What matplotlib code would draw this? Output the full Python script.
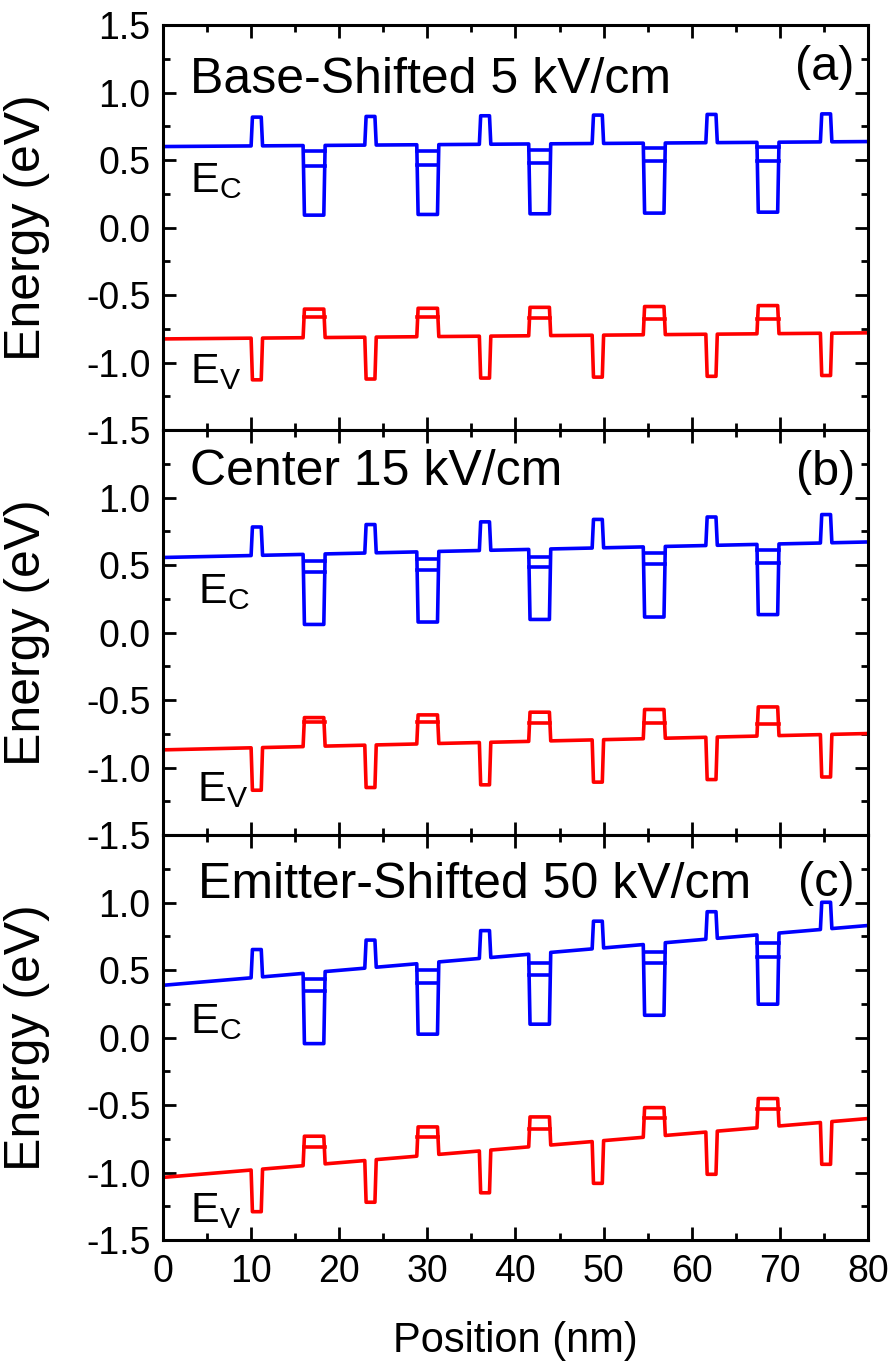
import matplotlib
matplotlib.use('Agg')
import matplotlib.pyplot as plt
from matplotlib.ticker import MultipleLocator, FormatStrFormatter

plt.rcParams['font.family'] = ['Liberation Sans', 'DejaVu Sans']
plt.rcParams['mathtext.fontset'] = 'custom'
plt.rcParams['mathtext.rm'] = 'Liberation Sans'
plt.rcParams['axes.unicode_minus'] = False

# feature positions (nm): left edges of the thin barriers and of the wells
barrier_x = [10.0, 22.9, 35.9, 48.7, 61.6, 74.6]
barrier_w = 1.3
well_x = [15.9, 28.8, 41.5, 54.5, 67.4]
well_w = 2.5

titles = ['Base-Shifted 5 kV/cm', 'Center 15 kV/cm', 'Emitter-Shifted 50 kV/cm']
tags = ['(a)', '(b)', '(c)']

# (a) base-shifted
ec_a_ends = [0.600, 0.637]
ec_a_barrier = [0.818, 0.823, 0.828, 0.833, 0.838, 0.842]
ec_a_well = [0.092, 0.097, 0.102, 0.107, 0.114]
ec_a_lev1 = [0.565, 0.570, 0.575, 0.590, 0.600]
ec_a_lev2 = [0.455, 0.465, 0.475, 0.490, 0.496]
ev_a_ends = [-0.825, -0.780]
ev_a_barrier = [-1.128, -1.122, -1.115, -1.108, -1.102, -1.096]
ev_a_well = [-0.604, -0.598, -0.591, -0.585, -0.578]
ev_a_lev = [-0.660, -0.665, -0.670, -0.675, -0.680]

# (b) center
ec_b_ends = [0.556, 0.671]
ec_b_barrier = [0.782, 0.800, 0.820, 0.838, 0.856, 0.874]
ec_b_well = [0.060, 0.078, 0.097, 0.115, 0.133]
ec_b_lev1 = [0.530, 0.545, 0.560, 0.590, 0.610]
ec_b_lev2 = [0.450, 0.467, 0.483, 0.505, 0.516]
ev_b_ends = [-0.869, -0.748]
ev_b_barrier = [-1.168, -1.148, -1.128, -1.108, -1.089, -1.070]
ev_b_well = [-0.630, -0.610, -0.590, -0.570, -0.551]
ev_b_lev = [-0.664, -0.666, -0.669, -0.671, -0.674]

# (c) emitter-shifted
ec_c_ends = [0.387, 0.830]
ec_c_barrier = [0.652, 0.722, 0.792, 0.862, 0.932, 1.002]
ec_c_well = [-0.045, 0.025, 0.099, 0.165, 0.247]
ec_c_lev1 = [0.437, 0.504, 0.555, 0.630, 0.700]
ec_c_lev2 = [0.345, 0.407, 0.460, 0.550, 0.600]
ev_c_ends = [-1.036, -0.600]
ev_c_barrier = [-1.290, -1.220, -1.150, -1.080, -1.013, -0.939]
ev_c_well = [-0.731, -0.662, -0.588, -0.519, -0.452]
ev_c_lev = [-0.810, -0.740, -0.674, -0.593, -0.526]

panels = [
    (ec_a_ends, ec_a_barrier, ec_a_well, [ec_a_lev1, ec_a_lev2],
     ev_a_ends, ev_a_barrier, ev_a_well, [ev_a_lev]),
    (ec_b_ends, ec_b_barrier, ec_b_well, [ec_b_lev1, ec_b_lev2],
     ev_b_ends, ev_b_barrier, ev_b_well, [ev_b_lev]),
    (ec_c_ends, ec_c_barrier, ec_c_well, [ec_c_lev1, ec_c_lev2],
     ev_c_ends, ev_c_barrier, ev_c_well, [ev_c_lev]),
]

# text placement per panel (data coords)
title_y = [1.00, 1.09, 1.03]
title_x = [3.1, 3.1, 4.0]
tag_y = [1.09, 1.09, 1.05]
ec_lab = [(3.1, 0.26), (4.0, 0.22), (3.1, 0.03)]
ev_lab = [(3.1, -1.15), (3.9, -1.25), (3.1, -1.37)]

EDGE = 0.15
BLUE = '#0000ff'
RED = '#ff0000'
LW = 2.6


def band(ends, barrier_vals, well_vals):
    feats = sorted([(x, x + barrier_w, v) for x, v in zip(barrier_x, barrier_vals)] +
                   [(x, x + well_w, v) for x, v in zip(well_x, well_vals)])
    slope = (ends[1] - ends[0]) / 80.0
    xs, ys = [0.0], [ends[0]]
    for xl, xr, v in feats:
        xs += [xl, xl + EDGE, xr - EDGE, xr]
        ys += [ends[0] + slope * xl, v, v, ends[0] + slope * xr]
    xs.append(80.0)
    ys.append(ends[1])
    return xs, ys


fig, axes = plt.subplots(3, 1, sharex=True, figsize=(8.93, 13.69), dpi=100)
fig.subplots_adjust(left=0.1825, right=0.972, top=0.9817, bottom=0.0942, hspace=0)

for i, ax in enumerate(axes):
    ec_ends, ec_bar, ec_well, ec_levs, ev_ends, ev_bar, ev_well, ev_levs = panels[i]

    x, y = band(ec_ends, ec_bar, ec_well)
    ax.plot(x, y, color=BLUE, lw=LW)
    for lev in ec_levs:
        for xw, v in zip(well_x, lev):
            ax.plot([xw + 0.05, xw + well_w - 0.05], [v, v], color=BLUE, lw=LW)

    x, y = band(ev_ends, ev_bar, ev_well)
    ax.plot(x, y, color=RED, lw=LW)
    for lev in ev_levs:
        for xw, v in zip(well_x, lev):
            ax.plot([xw + 0.05, xw + well_w - 0.05], [v, v], color=RED, lw=LW)

    ax.set_xlim(0, 80)
    ax.set_ylim(-1.5, 1.5)
    if i == 0:
        ax.set_yticks([-1.5, -1.0, -0.5, 0.0, 0.5, 1.0, 1.5])
    else:
        ax.set_yticks([-1.5, -1.0, -0.5, 0.0, 0.5, 1.0])
    ax.yaxis.set_minor_locator(MultipleLocator(0.25))
    ax.yaxis.set_major_formatter(FormatStrFormatter('%.1f'))
    ax.xaxis.set_major_locator(MultipleLocator(10))
    ax.xaxis.set_minor_locator(MultipleLocator(5))
    ax.tick_params(which='both', direction='in', top=True, right=True, width=2.0)
    ax.tick_params(which='major', length=9.5)
    ax.tick_params(which='minor', length=5)
    ax.tick_params(axis='y', labelsize=27, pad=9)
    ax.tick_params(axis='x', labelsize=27, pad=10)
    for sp in ax.spines.values():
        sp.set_linewidth(2.2)

    ax.set_ylabel('Energy (eV)', fontsize=36)
    ax.yaxis.set_label_coords(-0.16, 0.5)

    ax.text(title_x[i], title_y[i], titles[i], fontsize=36, va='baseline', ha='left')
    ax.text(78.5, tag_y[i], tags[i], fontsize=35, va='baseline', ha='right')
    ax.text(ec_lab[i][0], ec_lab[i][1], r'$\mathregular{E_C}$', fontsize=31, va='baseline')
    ax.text(ev_lab[i][0], ev_lab[i][1], r'$\mathregular{E_V}$', fontsize=31, va='baseline')

axes[-1].set_xlabel('Position (nm)', fontsize=30)
axes[-1].xaxis.set_label_coords(0.5, -0.2)

plt.savefig('out.png', dpi=100)
